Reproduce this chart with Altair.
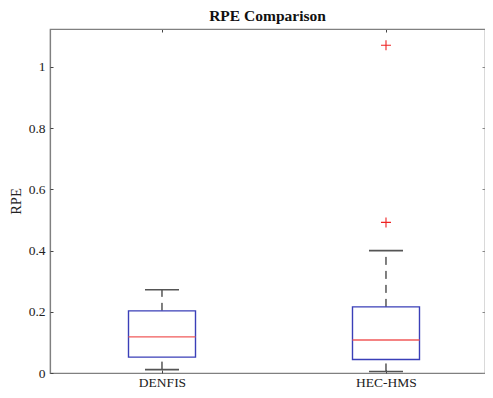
import altair as alt
import pandas as pd

# Data (RPE boxplot statistics)
groups = ["DENFIS", "HEC-HMS"]
positions = [1, 2]
q1 = [0.052, 0.044]
median = [0.118, 0.108]
q3 = [0.203, 0.216]
whisker_low = [0.011, 0.005]
whisker_high = [0.272, 0.400]
outlier_group = [2, 2]
outlier_values = [0.492, 1.071]

y_ticks = [0, 0.2, 0.4, 0.6, 0.8, 1.0]

W, H = 435, 344
FONT = "Liberation Serif"
AXIS_GRAY = "#808080"

df = pd.DataFrame({
    "group": groups, "pos": positions, "q1": q1, "median": median,
    "q3": q3, "lo": whisker_low, "hi": whisker_high,
})
out_df = pd.DataFrame({"pos": outlier_group, "value": outlier_values})

xscale = alt.Scale(domain=[0.5, 2.442], nice=False, zero=False)
yscale = alt.Scale(domain=[0, 1.124], nice=False, zero=True)

label_expr = "datum.value == 1 ? 'DENFIS' : (datum.value == 2 ? 'HEC-HMS' : '')"

main_x_axis = alt.Axis(values=[1, 2], labelExpr=label_expr, title=None, ticks=False,
                       domainColor=AXIS_GRAY, labelFont=FONT, labelFontSize=13.5,
                       labelColor="#222222", labelPadding=2, grid=False)
main_y_axis = alt.Axis(values=y_ticks, format="~g", title="RPE", ticks=False,
                       domainColor=AXIS_GRAY, labelFont=FONT, labelFontSize=13.5,
                       labelColor="#222222", labelPadding=5, titleFont=FONT,
                       titleFontSize=14.5, titleFontWeight="normal", titleColor="#222222",
                       titlePadding=5, grid=False)

base = alt.Chart(df)

# upper whisker (dashed) - carries the main axes
upper_whisker = base.mark_rule(color="black", strokeDash=[8, 6], strokeWidth=1).encode(
    x=alt.X("pos:Q", scale=xscale, axis=main_x_axis),
    y=alt.Y("q3:Q", scale=yscale, axis=main_y_axis),
    y2="hi:Q",
)

lower_whisker = base.mark_rule(color="black", strokeDash=[8, 6], strokeWidth=1).encode(
    x=alt.X("pos:Q", scale=xscale, axis=None),
    y=alt.Y("lo:Q", scale=yscale, axis=None),
    y2="q1:Q",
)

# upper caps - axes used for inward ticks on top edge and left edge
cap_high = base.mark_rule(color="#555555", strokeWidth=1.6, xOffset=-17, x2Offset=17).encode(
    x=alt.X("pos:Q", scale=xscale,
            axis=alt.Axis(orient="bottom", offset=-H, values=[1, 2], labels=False,
                          title=None, tickSize=3, tickColor="#444444",
                          domainColor=AXIS_GRAY, grid=False)),
    x2="pos:Q",
    y=alt.Y("hi:Q", scale=yscale,
            axis=alt.Axis(orient="right", offset=-W, values=y_ticks, labels=False,
                          title=None, tickSize=3, tickColor="#444444",
                          domain=False, grid=False)),
)

# lower caps - axes used for inward ticks on bottom edge and right edge
cap_low = base.mark_rule(color="#555555", strokeWidth=1.6, xOffset=-17, x2Offset=17).encode(
    x=alt.X("pos:Q", scale=xscale,
            axis=alt.Axis(orient="top", offset=-H, values=[1, 2], labels=False,
                          title=None, tickSize=3, tickColor="#444444",
                          domain=False, grid=False)),
    x2="pos:Q",
    y=alt.Y("lo:Q", scale=yscale,
            axis=alt.Axis(orient="left", offset=-W, values=y_ticks, labels=False,
                          title=None, tickSize=3, tickColor="#888888",
                          domain=False, grid=False)),
)

box = base.mark_rect(fill="white", stroke="#3a3fb8", strokeWidth=1.4,
                     xOffset=-33.5, x2Offset=33.5).encode(
    x=alt.X("pos:Q", scale=xscale, axis=None),
    x2="pos:Q",
    y=alt.Y("q1:Q", scale=yscale, axis=None),
    y2="q3:Q",
)

med = base.mark_rule(color="#f05a5a", strokeWidth=1.4, xOffset=-33.5, x2Offset=33.5).encode(
    x=alt.X("pos:Q", scale=xscale, axis=None),
    x2="pos:Q",
    y=alt.Y("median:Q", scale=yscale, axis=None),
)

outliers = alt.Chart(out_df).mark_point(
    shape="M-1,0L1,0M0,-1L0,1", filled=False, color="#ee2222", size=100, strokeWidth=1.1,
    opacity=1,
).encode(
    x=alt.X("pos:Q", scale=xscale, axis=None),
    y=alt.Y("value:Q", scale=yscale, axis=None),
)

chart = alt.layer(
    upper_whisker, lower_whisker, box, med, cap_high, cap_low, outliers
).resolve_scale(x="independent", y="independent").resolve_axis(
    x="independent", y="independent"
).properties(
    width=W, height=H,
    title=alt.TitleParams("RPE Comparison", font=FONT, fontSize=15.5, fontWeight="bold",
                          color="#111111", offset=4),
    autosize=alt.AutoSizeParams(type="none"),
    padding={"left": 42, "top": 21, "right": 0, "bottom": 17},
).configure_view(stroke=AXIS_GRAY, strokeWidth=1.2).configure_axis(
    domainWidth=1.2
)

chart.save("out.html", embed_options={"renderer": "svg", "actions": False})
